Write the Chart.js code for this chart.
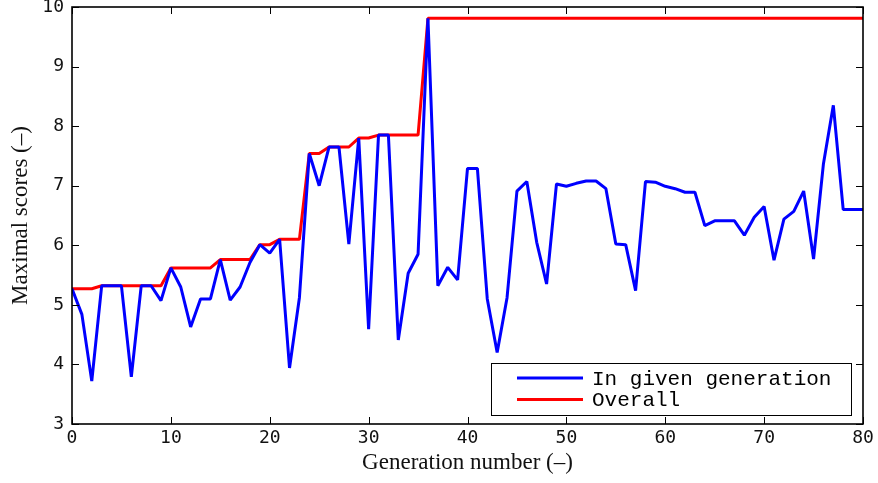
<!DOCTYPE html>
<html>
<head>
<meta charset="utf-8">
<script src="https://cdn.jsdelivr.net/npm/chart.js@4.4.1/dist/chart.umd.min.js"></script>
<style>
  html, body { margin: 0; padding: 0; background: #ffffff; }
  #wrap { width: 878px; height: 483px; }
</style>
</head>
<body>
<div id="wrap"><canvas id="c" width="878" height="483"></canvas></div>
<script>
// ---- data ----
const generations = [0,1,2,3,4,5,6,7,8,9,10,11,12,13,14,15,16,17,18,19,20,
  21,22,23,24,25,26,27,28,29,30,31,32,33,34,35,36,37,38,39,40,
  41,42,43,44,45,46,47,48,49,50,51,52,53,54,55,56,57,58,59,60,
  61,62,63,64,65,66,67,68,69,70,71,72,73,74,75,76,77,78,79,80];

const inGivenGeneration = [
  5.27, 4.84, 3.72, 5.32, 5.32, 5.32, 3.79, 5.32, 5.32, 5.07,
  5.62, 5.30, 4.63, 5.10, 5.10, 5.76, 5.08, 5.30, 5.71, 6.01,
  5.87, 6.10, 3.94, 5.12, 7.54, 7.00, 7.65, 7.65, 6.02, 7.80,
  4.59, 7.85, 7.85, 4.41, 5.53, 5.85, 9.81, 5.32, 5.63, 5.42,
  7.29, 7.29, 5.10, 4.20, 5.12, 6.91, 7.07, 6.05, 5.35, 7.03,
  6.99, 7.04, 7.08, 7.08, 6.95, 6.02, 6.01, 5.24, 7.07, 7.06,
  6.99, 6.95, 6.89, 6.89, 6.33, 6.41, 6.41, 6.41, 6.17, 6.47,
  6.65, 5.75, 6.44, 6.57, 6.91, 5.77, 7.37, 8.35, 6.60, 6.60,
  6.60
];

const overall = [
  5.27, 5.27, 5.27, 5.32, 5.32, 5.32, 5.32, 5.32, 5.32, 5.32,
  5.62, 5.62, 5.62, 5.62, 5.62, 5.76, 5.76, 5.76, 5.76, 6.01,
  6.01, 6.10, 6.10, 6.10, 7.54, 7.54, 7.65, 7.65, 7.65, 7.80,
  7.80, 7.85, 7.85, 7.85, 7.85, 7.85, 9.81, 9.81, 9.81, 9.81,
  9.81, 9.81, 9.81, 9.81, 9.81, 9.81, 9.81, 9.81, 9.81, 9.81,
  9.81, 9.81, 9.81, 9.81, 9.81, 9.81, 9.81, 9.81, 9.81, 9.81,
  9.81, 9.81, 9.81, 9.81, 9.81, 9.81, 9.81, 9.81, 9.81, 9.81,
  9.81, 9.81, 9.81, 9.81, 9.81, 9.81, 9.81, 9.81, 9.81, 9.81,
  9.81
];

const seriesLabels = ['In given generation', 'Overall'];
const xTitle = 'Generation number (–)';
const yTitle = 'Maximal scores (–)';
const xTicks = [0, 10, 20, 30, 40, 50, 60, 70, 80];
const yTicks = [3, 4, 5, 6, 7, 8, 9, 10];

// ---- helpers ----
function toPoints(ys) { return generations.map((g, i) => ({ x: g, y: ys[i] })); }

const frameAndTicks = {
  id: 'frameAndTicks',
  afterDatasetsDraw(chart) {
    const { ctx, chartArea: a, scales } = chart;
    const L = 7;
    ctx.save();
    ctx.strokeStyle = '#000';
    ctx.lineWidth = 1;
    ctx.beginPath();
    xTicks.forEach(v => {
      const px = Math.round(scales.x.getPixelForValue(v)) + 0.5;
      ctx.moveTo(px, a.bottom); ctx.lineTo(px, a.bottom - L);
      ctx.moveTo(px, a.top); ctx.lineTo(px, a.top + L);
    });
    yTicks.forEach(v => {
      const py = Math.round(scales.y.getPixelForValue(v)) + 0.5;
      ctx.moveTo(a.left, py); ctx.lineTo(a.left + L, py);
      ctx.moveTo(a.right, py); ctx.lineTo(a.right - L, py);
    });
    ctx.stroke();
    ctx.lineWidth = 1.6;
    ctx.strokeRect(a.left, a.top, a.right - a.left, a.bottom - a.top);
    ctx.restore();
  }
};

const boxLegend = {
  id: 'boxLegend',
  afterDraw(chart) {
    const { ctx, chartArea: a } = chart;
    const w = 360, h = 52;
    const right = a.right - 12, bottom = a.bottom - 9;
    const left = right - w, top = bottom - h;
    ctx.save();
    ctx.fillStyle = '#fff';
    ctx.fillRect(left, top, w, h);
    ctx.strokeStyle = '#000';
    ctx.lineWidth = 1;
    ctx.strokeRect(Math.round(left) + 0.5, Math.round(top) + 0.5, w, h);
    const rows = [top + 15, top + 36.5];
    chart.data.datasets.forEach((ds, i) => {
      const y = rows[i];
      ctx.strokeStyle = ds.borderColor;
      ctx.lineWidth = 3;
      ctx.beginPath();
      ctx.moveTo(left + 26, y); ctx.lineTo(left + 92, y);
      ctx.stroke();
      ctx.fillStyle = '#000';
      ctx.font = '21px "Liberation Mono", monospace';
      ctx.textBaseline = 'middle';
      ctx.textAlign = 'left';
      ctx.fillText(ds.label, left + 101, y + 1);
    });
    ctx.restore();
  }
};

new Chart(document.getElementById('c'), {
  type: 'line',
  data: {
    datasets: [
      { label: seriesLabels[0], data: toPoints(inGivenGeneration), borderColor: '#0000ff',
        borderWidth: 3, borderJoinStyle: 'bevel', pointRadius: 0, tension: 0, fill: false },
      { label: seriesLabels[1], data: toPoints(overall), borderColor: '#ff0000',
        borderWidth: 3, borderJoinStyle: 'bevel', pointRadius: 0, tension: 0, fill: false }
    ]
  },
  options: {
    responsive: false,
    animation: false,
    events: [],
    layout: { padding: { top: 7, right: 15, left: 0, bottom: 0 } },
    plugins: { legend: { display: false }, tooltip: { enabled: false } },
    scales: {
      x: {
        type: 'linear', min: 0, max: 80,
        afterBuildTicks(s) { s.ticks = xTicks.map(v => ({ value: v })); },
        afterFit(s) { s.height = 59; s.paddingLeft = 0; s.paddingRight = 0; },
        grid: { display: false, drawTicks: false },
        border: { display: false },
        ticks: { padding: 4, color: '#111', font: { family: '"DejaVu Sans Mono"', size: 18 } },
        title: { display: true, text: xTitle, color: '#111', padding: { top: 0, bottom: 6 },
          font: { family: '"Liberation Serif"', size: 23 } }
      },
      y: {
        type: 'linear', min: 3, max: 10,
        afterBuildTicks(s) { s.ticks = yTicks.map(v => ({ value: v })); },
        afterFit(s) { s.width = 72; s.paddingTop = 0; s.paddingBottom = 0; },
        grid: { display: false, drawTicks: false },
        border: { display: false },
        ticks: { padding: 8, color: '#111', font: { family: '"DejaVu Sans Mono"', size: 18 } },
        title: { display: true, text: yTitle, color: '#111', padding: { top: 7.5, bottom: 0 },
          font: { family: '"Liberation Serif"', size: 23 } }
      }
    }
  },
  plugins: [frameAndTicks, boxLegend]
});
</script>
</body>
</html>
